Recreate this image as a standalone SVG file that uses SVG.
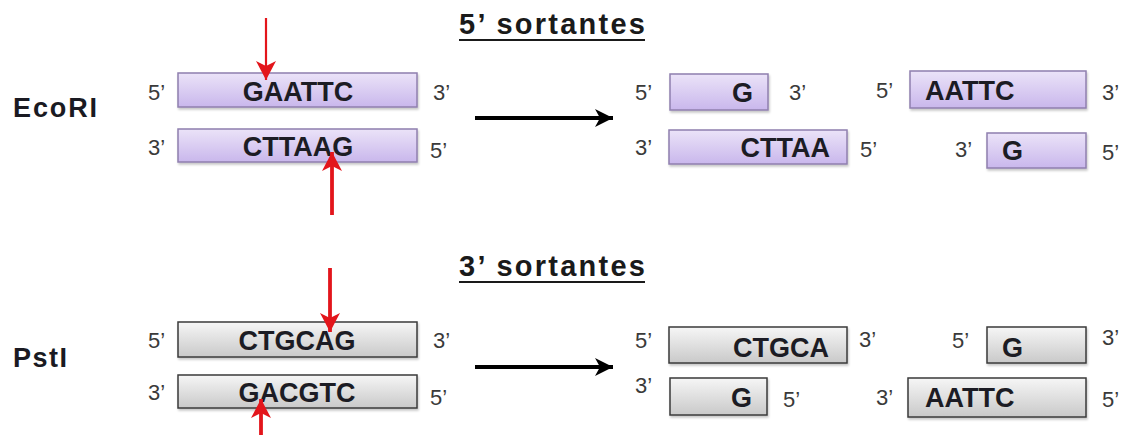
<svg xmlns="http://www.w3.org/2000/svg" width="1131" height="435" viewBox="0 0 1131 435">
  <defs>
    <linearGradient id="gPurple" x1="0" y1="0" x2="0" y2="1">
      <stop offset="0" stop-color="#ebe3f8"/>
      <stop offset="1" stop-color="#c9b7ec"/>
    </linearGradient>
    <linearGradient id="gGray" x1="0" y1="0" x2="0" y2="1">
      <stop offset="0" stop-color="#f6f6f6"/>
      <stop offset="1" stop-color="#c9c9c9"/>
    </linearGradient>
    <filter id="shadow" x="-5%" y="-20%" width="115%" height="160%">
      <feDropShadow dx="1" dy="2" stdDeviation="1.2" flood-color="#000" flood-opacity="0.22"/>
    </filter>
    <marker id="headRed" markerUnits="userSpaceOnUse" markerWidth="24" markerHeight="24" viewBox="0 0 24 24" refX="19" refY="12" orient="auto">
      <path d="M0,2 L19,12 L0,22 L5,12 Z" fill="#e3151b"/>
    </marker>
    <marker id="headBlack" markerUnits="userSpaceOnUse" markerWidth="22" markerHeight="22" viewBox="0 0 22 22" refX="18" refY="11" orient="auto">
      <path d="M0,2 L18,11 L0,20 L5,11 Z" fill="#000"/>
    </marker>
  </defs>
  <style>
    .bg { fill: #ffffff; }
    .strandP { fill: url(#gPurple); stroke: #8f7fae; stroke-width: 1.5; filter: url(#shadow); }
    .strandG { fill: url(#gGray); stroke: #3a3a3a; stroke-width: 1.5; filter: url(#shadow); }
    .seq { font-family: "Liberation Sans", Arial, sans-serif; font-weight: bold; font-size: 27px; fill: #1c1c24; }
    .end { font-family: "Liberation Sans", Arial, sans-serif; font-size: 22px; fill: #3a3a3a; }
    .enz { font-family: "Liberation Sans", Arial, sans-serif; font-weight: bold; font-size: 27px; fill: #1a1a22; }
    .title { font-family: "Liberation Sans", Arial, sans-serif; font-weight: bold; font-size: 29px; fill: #1a1a1a; }
    .ul { stroke: #1a1a1a; stroke-width: 2.2; }
    .cutThin { stroke: #e3151b; stroke-width: 2.2; fill: none; marker-end: url(#headRed); }
    .cut { stroke: #e3151b; stroke-width: 3.8; fill: none; marker-end: url(#headRed); }
    .react { stroke: #000; stroke-width: 4; fill: none; marker-end: url(#headBlack); }
  </style>

  <rect class="bg" x="0" y="0" width="1131" height="435"/>

  <!-- section headings -->
  <g id="title-5">
    <text class="title" x="459" y="34" textLength="186" lengthAdjust="spacing">5’ sortantes</text>
    <line class="ul" x1="459" y1="40" x2="645" y2="40"/>
  </g>
  <g id="title-3">
    <text class="title" x="459" y="276" textLength="186" lengthAdjust="spacing">3’ sortantes</text>
    <line class="ul" x1="459" y1="282" x2="645" y2="282"/>
  </g>

  <!-- enzyme names -->
  <g id="ecori-label"><text class="enz" x="13" y="117" textLength="84" lengthAdjust="spacing">EcoRI</text></g>
  <g id="psti-label"><text class="enz" x="13" y="367" textLength="54" lengthAdjust="spacing">PstI</text></g>

  <!-- EcoRI site -->
  <g id="ecori-top">
    <rect class="strandP" x="178" y="73" width="239" height="34"/>
    <text class="seq" x="298" y="101" text-anchor="middle">GAATTC</text>
    <text class="end" x="148" y="100">5’</text>
    <text class="end" x="433" y="100">3’</text>
  </g>
  <g id="ecori-bottom">
    <rect class="strandP" x="178" y="129" width="239" height="33"/>
    <text class="seq" x="298" y="156" text-anchor="middle">CTTAAG</text>
    <text class="end" x="148" y="155">3’</text>
    <text class="end" x="430" y="158">5’</text>
  </g>

  <!-- EcoRI products -->
  <g id="ecori-p1-top">
    <rect class="strandP" x="670" y="74" width="98" height="36"/>
    <text class="seq" x="753" y="102" text-anchor="end">G</text>
    <text class="end" x="635" y="100">5’</text>
    <text class="end" x="789" y="100">3’</text>
  </g>
  <g id="ecori-p1-bottom">
    <rect class="strandP" x="669" y="130" width="178" height="34"/>
    <text class="seq" x="830" y="157" text-anchor="end">CTTAA</text>
    <text class="end" x="635" y="155">3’</text>
    <text class="end" x="860" y="157">5’</text>
  </g>
  <g id="ecori-p2-top">
    <rect class="strandP" x="910" y="71" width="176" height="37"/>
    <text class="seq" x="925" y="100">AATTC</text>
    <text class="end" x="876" y="98">5’</text>
    <text class="end" x="1102" y="100">3’</text>
  </g>
  <g id="ecori-p2-bottom">
    <rect class="strandP" x="987" y="133" width="99" height="35"/>
    <text class="seq" x="1002" y="160">G</text>
    <text class="end" x="955" y="157">3’</text>
    <text class="end" x="1102" y="160">5’</text>
  </g>

  <!-- PstI site -->
  <g id="psti-top">
    <rect class="strandG" x="178" y="322" width="239" height="35"/>
    <text class="seq" x="297" y="350" text-anchor="middle">CTGCAG</text>
    <text class="end" x="148" y="348">5’</text>
    <text class="end" x="433" y="348">3’</text>
  </g>
  <g id="psti-bottom">
    <rect class="strandG" x="178" y="375" width="239" height="33"/>
    <text class="seq" x="297" y="402" text-anchor="middle">GACGTC</text>
    <text class="end" x="148" y="400">3’</text>
    <text class="end" x="430" y="405">5’</text>
  </g>

  <!-- PstI products -->
  <g id="psti-p1-top">
    <rect class="strandG" x="669" y="327" width="178" height="36"/>
    <text class="seq" x="829" y="357" text-anchor="end">CTGCA</text>
    <text class="end" x="635" y="348">5’</text>
    <text class="end" x="859" y="347">3’</text>
  </g>
  <g id="psti-p1-bottom">
    <rect class="strandG" x="670" y="378" width="97" height="37"/>
    <text class="seq" x="752" y="407" text-anchor="end">G</text>
    <text class="end" x="635" y="393">3’</text>
    <text class="end" x="783" y="407">5’</text>
  </g>
  <g id="psti-p2-top">
    <rect class="strandG" x="987" y="327" width="99" height="36"/>
    <text class="seq" x="1002" y="357">G</text>
    <text class="end" x="952" y="348">5’</text>
    <text class="end" x="1102" y="345">3’</text>
  </g>
  <g id="psti-p2-bottom">
    <rect class="strandG" x="908" y="378" width="178" height="39"/>
    <text class="seq" x="925" y="407">AATTC</text>
    <text class="end" x="876" y="405">3’</text>
    <text class="end" x="1102" y="407">5’</text>
  </g>

  <!-- cut sites and reaction arrows -->
  <g id="connectors">
    <line class="cutThin" x1="266" y1="18" x2="266" y2="80"/>
    <line class="cut" x1="332" y1="215" x2="332" y2="152"/>
    <line class="cut" x1="330" y1="268" x2="330" y2="332"/>
    <line class="cut" x1="261" y1="440" x2="261" y2="399"/>
    <line class="react" x1="475" y1="118" x2="613" y2="118"/>
    <line class="react" x1="475" y1="367" x2="613" y2="367"/>
  </g>
</svg>
